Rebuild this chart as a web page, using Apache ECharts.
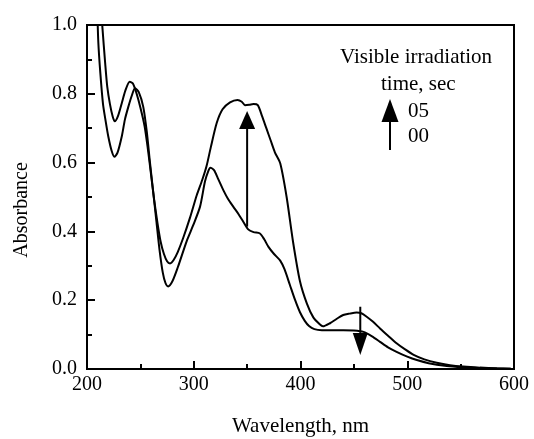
<!DOCTYPE html>
<html>
<head>
<meta charset="utf-8">
<script src="https://cdn.jsdelivr.net/npm/echarts@6/dist/echarts.min.js"></script>
<style>
  html, body { margin: 0; padding: 0; background: #fff; }
  #chart { width: 534px; height: 439px; }
</style>
</head>
<body>
<div id="chart"></div>
<script>
// spectra (wavelength nm / absorbance)
var wl05 = [213, 214.5, 217, 219, 221.5, 224, 226, 229, 232.5, 236, 240, 243, 246.5, 250, 254, 257, 260, 263, 266, 269, 272, 275, 277.8, 281, 285, 290, 296.5, 302.8, 308, 312, 316, 321.5, 327, 334, 341, 345, 348, 352, 356, 360, 364, 368, 372, 376, 381, 387, 393, 399.5, 406, 412, 418, 421, 427.6, 434, 440, 446, 452.6, 457, 462, 468, 474.5, 482, 490, 498, 506, 516, 527.6, 540, 552.5, 568, 584, 597];
var abs05 = [1.06, 0.99, 0.89, 0.82, 0.77, 0.735, 0.72, 0.735, 0.772, 0.81, 0.835, 0.83, 0.80, 0.76, 0.705, 0.64, 0.565, 0.49, 0.425, 0.37, 0.335, 0.313, 0.307, 0.316, 0.34, 0.38, 0.44, 0.505, 0.55, 0.59, 0.645, 0.715, 0.755, 0.775, 0.782, 0.777, 0.767, 0.768, 0.77, 0.767, 0.735, 0.70, 0.665, 0.63, 0.598, 0.50, 0.37, 0.255, 0.19, 0.15, 0.13, 0.124, 0.133, 0.146, 0.157, 0.161, 0.164, 0.162, 0.152, 0.137, 0.118, 0.097, 0.075, 0.057, 0.041, 0.028, 0.018, 0.011, 0.007, 0.004, 0.002, 0.001];

var wl00 = [209.5, 210.6, 212.5, 215, 217.5, 220, 223, 225.6, 228.5, 232.5, 235.5, 238.7, 242, 245, 248.5, 252.7, 256, 259, 262, 265, 268, 271, 273.5, 276, 280, 285, 293.4, 299.5, 305.9, 310.5, 313.6, 315.5, 319, 322.5, 327.7, 332, 337, 342, 346.4, 351, 356, 362, 366, 370, 375, 381, 385, 390, 395, 399.5, 404, 408, 413, 420, 428, 440, 450, 459, 467, 474.5, 482, 490, 500, 509, 520, 537, 552, 568, 597];
var abs00 = [1.06, 0.95, 0.86, 0.77, 0.72, 0.675, 0.635, 0.617, 0.628, 0.675, 0.725, 0.762, 0.795, 0.816, 0.805, 0.762, 0.69, 0.60, 0.515, 0.43, 0.345, 0.28, 0.25, 0.24, 0.255, 0.295, 0.372, 0.418, 0.472, 0.545, 0.575, 0.585, 0.578, 0.555, 0.52, 0.495, 0.472, 0.45, 0.428, 0.406, 0.398, 0.394, 0.377, 0.355, 0.335, 0.315, 0.29, 0.245, 0.20, 0.165, 0.14, 0.125, 0.116, 0.113, 0.113, 0.113, 0.112, 0.108, 0.095, 0.079, 0.063, 0.05, 0.036, 0.026, 0.017, 0.009, 0.005, 0.002, 0.001];

var xTicks = [200, 300, 400, 500, 600];
var yTicks = [0.0, 0.2, 0.4, 0.6, 0.8, 1.0];

// change arrows (wavelength, absorbance from -> to)
var arrowUp = [350, 0.414, 0.75];
var arrowDown = [456, 0.181, 0.041];

var serif = "'Liberation Serif', 'Times New Roman', serif";

function zip(xs, ys) {
    var out = [];
    for (var i = 0; i < xs.length; i++) out.push([xs[i], ys[i]]);
    return out;
}

var myChart = echarts.init(document.getElementById('chart'));

var option = {
    animation: false,
    backgroundColor: '#fff',
    grid: {
        left: 87, right: 20, top: 25, bottom: 70,
        outerBoundsMode: 'none',
        show: true, borderColor: '#000', borderWidth: 2
    },
    xAxis: {
        type: 'value',
        min: xTicks[0], max: xTicks[xTicks.length - 1], interval: 100,
        name: 'Wavelength, nm',
        nameLocation: 'middle',
        nameGap: 47,
        nameTextStyle: { fontFamily: serif, fontSize: 21, color: '#000' },
        axisLine: { lineStyle: { color: '#000', width: 2 } },
        axisTick: { inside: true, length: 8, lineStyle: { color: '#000', width: 2 } },
        minorTick: { show: true, splitNumber: 2, length: 5, lineStyle: { color: '#000', width: 2 } },
        axisLabel: { fontFamily: serif, fontSize: 20, color: '#000', margin: 6 },
        splitLine: { show: false }
    },
    yAxis: {
        type: 'value',
        min: yTicks[0], max: yTicks[yTicks.length - 1], interval: 0.2,
        name: 'Absorbance',
        nameLocation: 'middle',
        nameGap: 55,
        nameTextStyle: { fontFamily: serif, fontSize: 20, color: '#000', padding: [0, 0, 0, -26] },
        axisLine: { lineStyle: { color: '#000', width: 2 } },
        axisTick: { inside: true, length: 8, lineStyle: { color: '#000', width: 2 } },
        minorTick: { show: true, splitNumber: 2, length: 5, lineStyle: { color: '#000', width: 2 } },
        axisLabel: {
            fontFamily: serif, fontSize: 20, color: '#000', margin: 10,
            formatter: function (v) { return v.toFixed(1); }
        },
        splitLine: { show: false }
    },
    series: [
        {
            name: '05', type: 'line', data: zip(wl05, abs05),
            showSymbol: false, smooth: 0.25, clip: true,
            lineStyle: { color: '#000', width: 2 }
        },
        {
            name: '00', type: 'line', data: zip(wl00, abs00),
            showSymbol: false, smooth: 0.25, clip: true,
            lineStyle: { color: '#000', width: 2 }
        }
    ]
};

myChart.setOption(option);

function arrow(x, y1, y2, headLen, headW) {
    var p1 = myChart.convertToPixel({ gridIndex: 0 }, [x, y1]);
    var p2 = myChart.convertToPixel({ gridIndex: 0 }, [x, y2]);
    var dir = p2[1] < p1[1] ? 1 : -1;   // 1 = pointing up
    var base = p2[1] + dir * headLen;
    return [
        { type: 'line', shape: { x1: p1[0], y1: p1[1], x2: p1[0], y2: base }, style: { stroke: '#000', lineWidth: 2 } },
        { type: 'polygon', shape: { points: [[p2[0], p2[1]], [p2[0] - headW / 2, base], [p2[0] + headW / 2, base]] }, style: { fill: '#000' } }
    ];
}

var g = [];
g = g.concat(arrow(arrowUp[0], arrowUp[1], arrowUp[2], 18, 16));
g = g.concat(arrow(arrowDown[0], arrowDown[1], arrowDown[2], 22, 15));

// legend block
var legendFont = '21px ' + serif;
g.push({ type: 'text', left: 340, top: 47, style: { text: 'Visible irradiation', font: legendFont, fill: '#000' } });
g.push({ type: 'text', left: 381, top: 74, style: { text: 'time, sec', font: legendFont, fill: '#000' } });
g.push({ type: 'text', left: 408, top: 101, style: { text: '05', font: legendFont, fill: '#000' } });
g.push({ type: 'text', left: 408, top: 126, style: { text: '00', font: legendFont, fill: '#000' } });
g.push({ type: 'line', shape: { x1: 390, y1: 120, x2: 390, y2: 150 }, style: { stroke: '#000', lineWidth: 2 } });
g.push({ type: 'polygon', shape: { points: [[390, 99], [381.5, 122], [398.5, 122]] }, style: { fill: '#000' } });

myChart.setOption({ graphic: g });
</script>
</body>
</html>
